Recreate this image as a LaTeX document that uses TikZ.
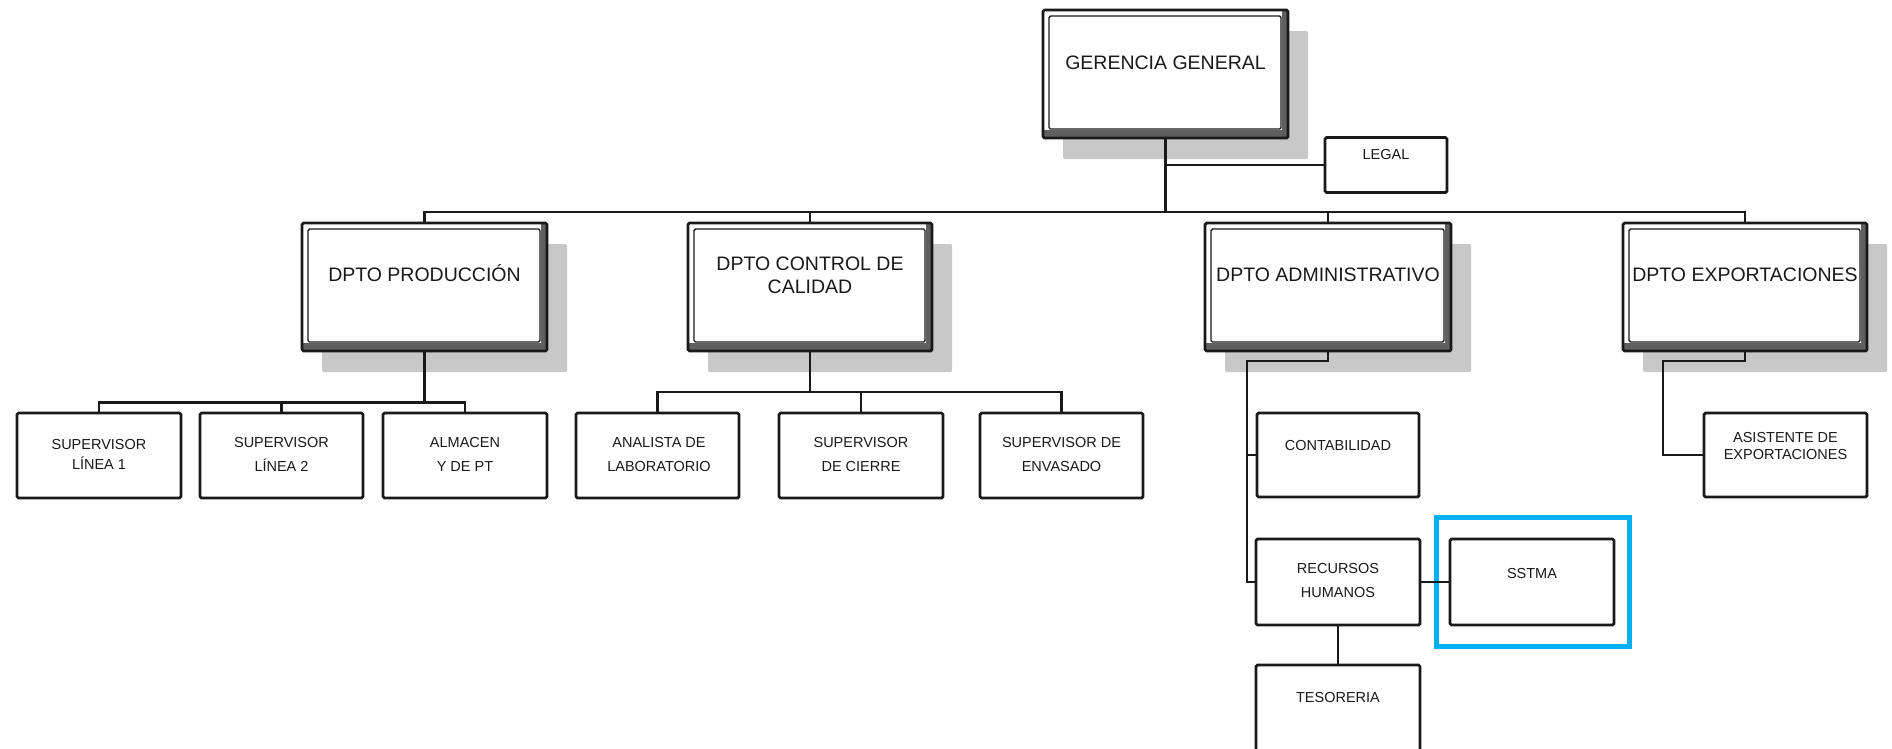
\documentclass[tikz,border=0pt]{standalone}
\usepackage{fontspec}
\setmainfont{Liberation Sans}
\usetikzlibrary{shadows}
\definecolor{shd}{RGB}{200,200,200}
\definecolor{hlblue}{RGB}{0,176,240}
\definecolor{band}{RGB}{95,95,95}
\definecolor{ink}{RGB}{25,25,25}
\tikzset{
 conn/.style={draw=ink, line width=2.7pt},
 deptbox/.style={draw=ink, line width=2.8pt, fill=white, rounded corners=1.5pt, inner sep=0pt, outer sep=0pt,
   drop shadow={shadow xshift=20pt, shadow yshift=-21pt, fill=shd, opacity=1},
   path picture={
     \fill[band] (path picture bounding box.south west) rectangle ([yshift=8pt]path picture bounding box.south east);
     \fill[band] ([xshift=-6pt]path picture bounding box.south east) rectangle (path picture bounding box.north east);
     \draw[ink, line width=1.4pt] ([xshift=6pt,yshift=9pt]path picture bounding box.south west) rectangle ([xshift=-7pt,yshift=-6pt]path picture bounding box.north east);
   }},
 smallbox/.style={draw=ink, line width=2.8pt, fill=white, rounded corners=1.5pt, inner sep=0pt, outer sep=0pt},
 bigtxt/.style={font=\fontsize{19.5}{22}\selectfont, text=ink, inner sep=0pt, anchor=base},
 smalltxt/.style={font=\fontsize{14.5}{17}\selectfont, text=ink, inner sep=0pt, anchor=base},
}
\begin{document}
\begin{tikzpicture}[x=1pt,y=-1pt]
\useasboundingbox (0,0) rectangle (1892,748);
\fill[white] (0,0) rectangle (1892,748);
\clip (0,0) rectangle (1892,748);

% top level
\node[deptbox, minimum width=245pt, minimum height=128pt] (gg) at (1165.5,74) {};
\node[smallbox, minimum width=122pt, minimum height=55pt] (legal) at (1386,165) {};
% departments
\node[deptbox, minimum width=245pt, minimum height=128pt] (prod) at (424.5,287) {};
\node[deptbox, minimum width=244pt, minimum height=128pt] (ctrl) at (810,287) {};
\node[deptbox, minimum width=246pt, minimum height=128pt] (adm) at (1328,287) {};
\node[deptbox, minimum width=244pt, minimum height=128pt] (exp) at (1745,287) {};
% production
\node[smallbox, minimum width=164pt, minimum height=85pt] (s1) at (99,455.5) {};
\node[smallbox, minimum width=163pt, minimum height=85pt] (s2) at (281.5,455.5) {};
\node[smallbox, minimum width=164pt, minimum height=85pt] (alm) at (465,455.5) {};
% quality
\node[smallbox, minimum width=163pt, minimum height=85pt] (anal) at (657.5,455.5) {};
\node[smallbox, minimum width=164pt, minimum height=85pt] (cier) at (861,455.5) {};
\node[smallbox, minimum width=163pt, minimum height=85pt] (env) at (1061.5,455.5) {};
% administration
\node[smallbox, minimum width=162pt, minimum height=84pt] (contab) at (1338,455) {};
\node[smallbox, minimum width=164pt, minimum height=86pt] (rrhh) at (1338,582) {};
\node[smallbox, minimum width=164pt, minimum height=86pt] (sstma) at (1532,582) {};
\node[smallbox, minimum width=164pt, minimum height=86pt] (teso) at (1338,708) {};
% exports
\node[smallbox, minimum width=163pt, minimum height=84pt] (asis) at (1785.5,455) {};
% highlight
\node[draw=hlblue, line width=5pt, minimum width=193pt, minimum height=129pt, inner sep=0pt] (hl) at (1533,582) {};

% texts
\node[bigtxt] (tgg) at (1165.5,69) {GERENCIA GENERAL};
\node[smalltxt] (tlegal) at (1386,159) {LEGAL};
\node[bigtxt] (tprod) at (424.5,281) {DPTO PRODUCCIÓN};
\node[bigtxt] (tctrla) at (810,270) {DPTO CONTROL DE};
\node[bigtxt] (tctrlb) at (810,293) {CALIDAD};
\node[bigtxt] (tadm) at (1328,281) {DPTO ADMINISTRATIVO};
\node[bigtxt] (texp) at (1745,281) {DPTO EXPORTACIONES};
\node[smalltxt] (ts1a) at (99,449) {SUPERVISOR};
\node[smalltxt] (ts1b) at (99,469) {LÍNEA 1};
\node[smalltxt] (ts2a) at (281.5,447) {SUPERVISOR};
\node[smalltxt] (ts2b) at (281.5,471) {LÍNEA 2};
\node[smalltxt] (talma) at (465,447) {ALMACEN};
\node[smalltxt] (talmb) at (465,471) {Y DE PT};
\node[smalltxt] (tanala) at (659,447) {ANALISTA DE};
\node[smalltxt] (tanalb) at (659,471) {LABORATORIO};
\node[smalltxt] (tciera) at (861,447) {SUPERVISOR};
\node[smalltxt] (tcierb) at (861,471) {DE CIERRE};
\node[smalltxt] (tenva) at (1061.5,447) {SUPERVISOR DE};
\node[smalltxt] (tenvb) at (1061.5,471) {ENVASADO};
\node[smalltxt] (tcontab) at (1338,450) {CONTABILIDAD};
\node[smalltxt] (tasisa) at (1785.5,442) {ASISTENTE DE};
\node[smalltxt] (tasisb) at (1785.5,459) {EXPORTACIONES};
\node[smalltxt] (trrhha) at (1338,573) {RECURSOS};
\node[smalltxt] (trrhhb) at (1338,597) {HUMANOS};
\node[smalltxt] (tsstma) at (1532,578) {SSTMA};
\node[smalltxt] (tteso) at (1338,702) {TESORERIA};

% connectors
\coordinate (bus) at (0,212);
\coordinate (pbus) at (0,402.5);
\coordinate (cbus) at (0,392);
\coordinate (aX) at (1247,361);
\coordinate (eX) at (1663,361);
\draw[conn] (gg.south) -- (gg.south |- bus);
\draw[conn] (gg.south |- legal.west) -- (legal.west);
\draw[conn] (prod.north) |- (exp.north |- bus) -- (exp.north);
\draw[conn] (ctrl.north) -- (ctrl.north |- bus);
\draw[conn] (adm.north) -- (adm.north |- bus);
\draw[conn] (prod.south) -- (prod.south |- pbus);
\draw[conn] (s1.north) |- (alm.north |- pbus) -- (alm.north);
\draw[conn] (s2.north) -- (s2.north |- pbus);
\draw[conn] (ctrl.south) -- (ctrl.south |- cbus);
\draw[conn] (anal.north) |- (env.north |- cbus) -- (env.north);
\draw[conn] (cier.north) -- (cier.north |- cbus);
\draw[conn] (adm.south) |- (aX) |- (rrhh.west);
\draw[conn] (contab.west) -- (contab.west -| aX);
\draw[conn] (exp.south) |- (eX) |- (asis.west);
\draw[conn] (rrhh.east) -- (sstma.west);
\draw[conn] (rrhh.south) -- (teso.north);
\end{tikzpicture}
\end{document}
